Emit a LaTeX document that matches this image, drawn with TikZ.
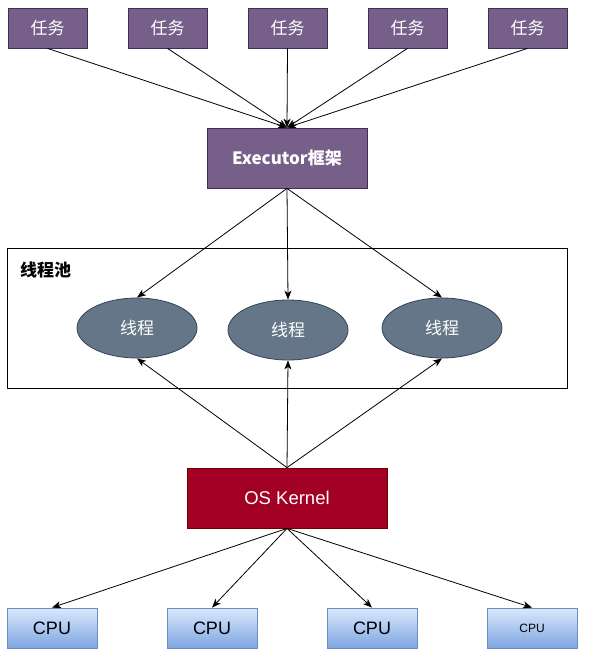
\documentclass[tikz,border=0pt]{standalone}
\usepackage{fontspec}
\setmainfont{Liberation Sans}
\newfontfamily\cjk{Noto Sans CJK SC}
\usetikzlibrary{shapes.geometric,arrows.meta}

\definecolor{taskfill}{HTML}{76608A}
\definecolor{taskline}{HTML}{432D57}
\definecolor{threadfill}{HTML}{647687}
\definecolor{threadline}{HTML}{314354}
\definecolor{kernelfill}{HTML}{A20025}
\definecolor{kernelline}{HTML}{6F0000}
\definecolor{cputop}{HTML}{DAE8FC}
\definecolor{cpubottom}{HTML}{7EA6E0}
\definecolor{cpuline}{HTML}{6C8EBF}

\tikzset{
  task/.style={draw=taskline, fill=taskfill, text=white, line width=0.8pt,
    minimum width=79pt, minimum height=40pt, inner sep=0pt,
    font=\cjk\fontsize{17}{20}\selectfont},
  framework/.style={task, minimum width=160pt, minimum height=60pt},
  thread/.style={ellipse, draw=threadline, fill=threadfill, text=white, line width=0.8pt,
    minimum width=120pt, minimum height=60pt, inner sep=0pt,
    font=\cjk\fontsize{17}{20}\selectfont},
  kernel/.style={draw=kernelline, fill=kernelfill, text=white, line width=0.8pt,
    minimum width=200pt, minimum height=60pt, inner sep=0pt,
    font=\fontsize{18.5}{21}\selectfont},
  cpu/.style={draw=cpuline, top color=cputop, bottom color=cpubottom, line width=0.8pt,
    minimum width=90pt, minimum height=40pt, inner sep=0pt,
    font=\fontsize{18}{21}\selectfont},
  pool/.style={draw=black, line width=0.8pt, minimum width=560pt, minimum height=140pt},
  link/.style={draw=black, line width=0.8pt, -{Stealth[length=9pt,width=7pt,inset=2.5pt]}}
}

\begin{document}
\begin{tikzpicture}[x=1pt,y=-1pt]
  \useasboundingbox (0,0) rectangle (602,658);

  % tasks
  \foreach \i/\x in {1/47.5,2/167.5,3/287.5,4/407.5,5/527.5}
    \node[task] (t\i) at (\x,28) {任务};
  \node[framework] (exec) at (287,158) {\bfseries Executor{\cjk\bfseries 框架}};

  % thread pool
  \node[pool] (pool) at (287,318) {};
  \node[anchor=west, inner sep=0pt, font=\cjk\bfseries\fontsize{17}{20}\selectfont] (poollabel) at (20,270) {线程池};
  \node[thread] (th1) at (137,328) {线程};
  \node[thread] (th2) at (288,330) {线程};
  \node[thread] (th3) at (442,328) {线程};

  \node[kernel] (kernel) at (287,498) {OS Kernel};

  % cpus
  \node[cpu] (cpu1) at (52,628) {CPU};
  \node[cpu] (cpu2) at (212,628) {CPU};
  \node[cpu] (cpu3) at (372,628) {CPU};
  \node[cpu, font=\fontsize{12}{14}\selectfont] (cpu4) at (532,628) {CPU};

  \foreach \i in {1,...,5}
    \draw[link] (t\i.south) -- (exec.north);
  \foreach \i in {1,2,3} {
    \draw[link] (exec.south) -- (th\i.north);
    \draw[link] (kernel.north) -- (th\i.south);
  }
  \foreach \i in {1,...,4}
    \draw[link] (kernel.south) -- (cpu\i.north);
\end{tikzpicture}
\end{document}
